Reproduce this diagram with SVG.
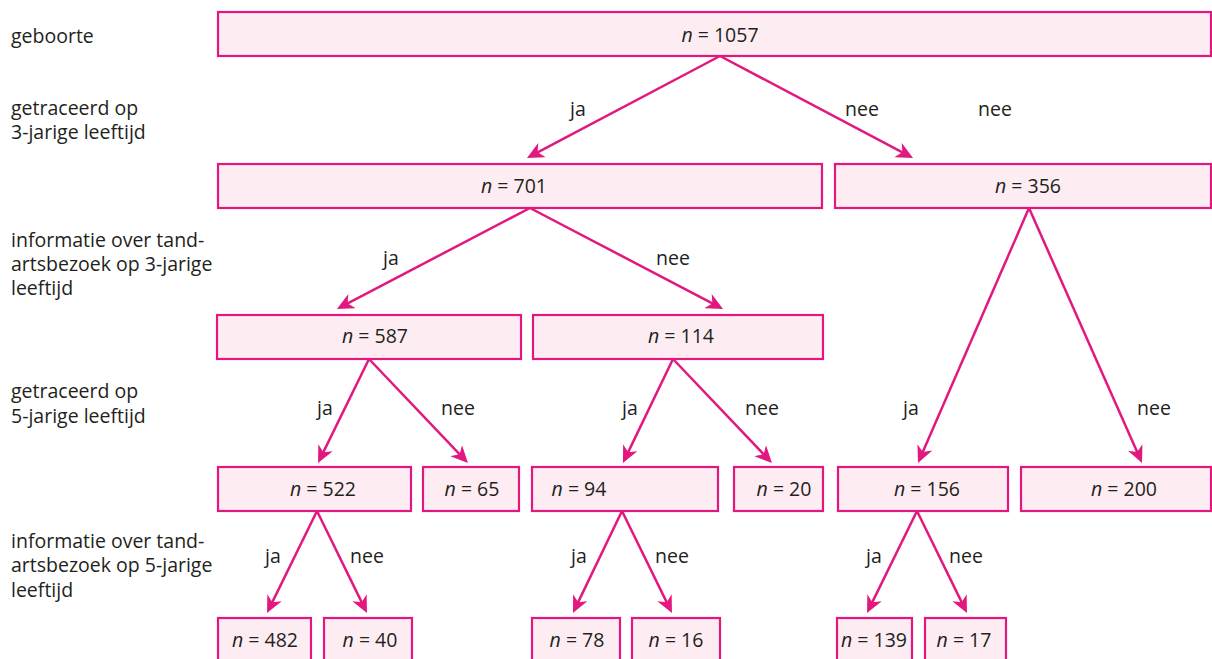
<svg xmlns="http://www.w3.org/2000/svg" width="1212" height="659" viewBox="0 0 1212 659">
<style>
text{font-family:"Open Sans","Liberation Sans",sans-serif;font-size:19.5px;fill:#231f20}
.box{fill:#fdedf3;stroke:#e2187f;stroke-width:2.2}
.c text,.n text{text-anchor:middle}
.lbl{text-anchor:start}
.e{stroke:#e2187f;stroke-width:2.5;fill:none;marker-end:url(#ah)}
.i{font-style:italic}
</style>
<defs>
<marker id="ah" markerUnits="userSpaceOnUse" viewBox="0 0 17 16" markerWidth="17" markerHeight="16" refX="13" refY="8" orient="auto">
<path d="M0,0 L17,8 L0,16 L5,8 Z" fill="#e2187f"/>
</marker>
</defs>
<g id="rowlabels">
<text x="11" y="43">geboorte</text>
<text x="11" y="115">getraceerd op<tspan x="11" y="139">3-jarige leeftijd</tspan></text>
<text x="11" y="247">informatie over tand-<tspan x="11" y="271">artsbezoek op 3-jarige</tspan><tspan x="11" y="295">leeftijd</tspan></text>
<text x="11" y="398">getraceerd op<tspan x="11" y="423">5-jarige leeftijd</tspan></text>
<text x="11" y="548">informatie over tand-<tspan x="11" y="572">artsbezoek op 5-jarige</tspan><tspan x="11" y="597">leeftijd</tspan></text>
</g>
<g id="connectors">
<path class="e" d="M720,56 L530.5,156.1"/>
<path class="e" d="M720,56 L909.5,156.1"/>
<path class="e" d="M530,208 L340.5,307.1"/>
<path class="e" d="M530,208 L719.5,307.1"/>
<path class="e" d="M1029,208 L919.6,459.3"/>
<path class="e" d="M1029,208 L1140.4,459.3"/>
<path class="e" d="M369,359 L319.8,459.4"/>
<path class="e" d="M369,359 L465.2,460.1"/>
<path class="e" d="M673,359 L624.7,459.4"/>
<path class="e" d="M673,359 L769.2,460.1"/>
<path class="e" d="M317,511 L268.8,609.4"/>
<path class="e" d="M317,511 L365.2,609.4"/>
<path class="e" d="M622,511 L574.7,609.4"/>
<path class="e" d="M622,511 L670.2,609.4"/>
<path class="e" d="M917,511 L868.8,609.4"/>
<path class="e" d="M917,511 L965.2,609.4"/>
<g class="lbl">
<text x="570" y="116">ja</text>
<text x="845" y="116">nee</text>
<text x="978" y="116">nee</text>
<text x="383" y="265">ja</text>
<text x="656" y="265">nee</text>
<text x="317" y="415">ja</text>
<text x="441" y="415">nee</text>
<text x="622" y="415">ja</text>
<text x="745" y="415">nee</text>
<text x="903" y="415">ja</text>
<text x="1137" y="415">nee</text>
<text x="265" y="563">ja</text>
<text x="350" y="563">nee</text>
<text x="571" y="563">ja</text>
<text x="655" y="563">nee</text>
<text x="866" y="563">ja</text>
<text x="949" y="563">nee</text>
</g>
</g>
<g id="n1057" class="n"><rect class="box" x="218" y="12" width="993" height="44"/><text x="720" y="42"><tspan class="i">n</tspan> = 1057</text></g>
<g id="n701" class="n"><rect class="box" x="218" y="164" width="604" height="44"/><text x="514" y="193"><tspan class="i">n</tspan> = 701</text></g>
<g id="n356" class="n"><rect class="box" x="835" y="164" width="376" height="44"/><text x="1028" y="193"><tspan class="i">n</tspan> = 356</text></g>
<g id="n587" class="n"><rect class="box" x="217" y="315" width="304" height="44"/><text x="375" y="343"><tspan class="i">n</tspan> = 587</text></g>
<g id="n114" class="n"><rect class="box" x="533" y="315" width="290" height="44"/><text x="681" y="343"><tspan class="i">n</tspan> = 114</text></g>
<g id="n522" class="n"><rect class="box" x="218" y="467" width="193" height="44"/><text x="323" y="496"><tspan class="i">n</tspan> = 522</text></g>
<g id="n65" class="n"><rect class="box" x="423" y="467" width="96" height="44"/><text x="472" y="496"><tspan class="i">n</tspan> = 65</text></g>
<g id="n94" class="n"><rect class="box" x="532" y="467" width="186" height="44"/><text x="579" y="496"><tspan class="i">n</tspan> = 94</text></g>
<g id="n20" class="n"><rect class="box" x="734" y="467" width="89" height="44"/><text x="784" y="496"><tspan class="i">n</tspan> = 20</text></g>
<g id="n156" class="n"><rect class="box" x="838" y="467" width="170" height="44"/><text x="927" y="496"><tspan class="i">n</tspan> = 156</text></g>
<g id="n200" class="n"><rect class="box" x="1021" y="467" width="190" height="44"/><text x="1124" y="496"><tspan class="i">n</tspan> = 200</text></g>
<g id="n482" class="n"><rect class="box" x="218" y="618" width="93" height="50"/><text x="265" y="647"><tspan class="i">n</tspan> = 482</text></g>
<g id="n40" class="n"><rect class="box" x="324" y="618" width="88" height="50"/><text x="370" y="647"><tspan class="i">n</tspan> = 40</text></g>
<g id="n78" class="n"><rect class="box" x="532" y="618" width="88" height="50"/><text x="577" y="647"><tspan class="i">n</tspan> = 78</text></g>
<g id="n16" class="n"><rect class="box" x="632" y="618" width="88" height="50"/><text x="676" y="647"><tspan class="i">n</tspan> = 16</text></g>
<g id="n139" class="n"><rect class="box" x="837" y="618" width="75" height="50"/><text x="874" y="647"><tspan class="i">n</tspan> = 139</text></g>
<g id="n17" class="n"><rect class="box" x="925" y="618" width="81" height="50"/><text x="964" y="647"><tspan class="i">n</tspan> = 17</text></g>
</svg>
